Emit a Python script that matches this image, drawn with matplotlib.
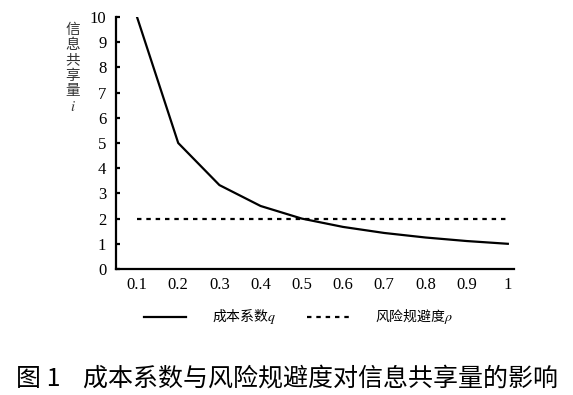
import matplotlib.pyplot as plt

plt.rcParams['font.family'] = ['Noto Sans CJK SC', 'DejaVu Sans']
plt.rcParams['mathtext.fontset'] = 'stix'

# data
q = [0.1, 0.2, 0.3, 0.4, 0.5, 0.6, 0.7, 0.8, 0.9, 1.0]
share_q = [10, 5, 3.33, 2.5, 2.0, 1.67, 1.43, 1.25, 1.11, 1.0]
share_rho = [2, 2, 2, 2, 2, 2, 2, 2, 2, 2]
xtick_labels = ['0.1', '0.2', '0.3', '0.4', '0.5', '0.6', '0.7', '0.8', '0.9', '1']
yticks = list(range(0, 11))

fig = plt.figure(figsize=(5.73, 3.95), dpi=100)
ax = fig.add_axes([116 / 573, 1 - 269 / 395, (514 - 116) / 573, (269 - 17) / 395])

ax.plot(q, share_q, color='black', lw=1.6, label='成本系数$q$')
ax.plot(q, share_rho, color='black', lw=1.6, linestyle=(0, (2, 2.2)),
        label='风险规避度$\\rho$')

ax.set_xlim(0.049, 1.015)
ax.set_ylim(0, 10)
ax.set_xticks(q)
ax.set_xticklabels(xtick_labels)
ax.set_yticks(yticks)
for sp in ['top', 'right']:
    ax.spines[sp].set_visible(False)
for sp in ['left', 'bottom']:
    ax.spines[sp].set_linewidth(1.6)
ax.tick_params(axis='y', direction='in', length=3, width=1.6, pad=7)
ax.tick_params(axis='x', length=0, pad=6)
for lab in ax.get_xticklabels() + ax.get_yticklabels():
    lab.set_family('Liberation Serif')
    lab.set_fontsize(12)

# vertical y-axis label
fig.text(73 / 573, 1 - 23 / 395, '信\n息\n共\n享\n量\n$i$', ha='center', va='top',
         fontsize=10.5, linespacing=1.12, color='#333333')

fig.legend(loc='center', bbox_to_anchor=(0.521, 1 - 317 / 395), ncol=2, frameon=False,
           fontsize=10, handlelength=3.0, columnspacing=2.2, handletextpad=1.9)

fig.text(0.5, 1 - 378 / 395, '图 1    成本系数与风险规避度对信息共享量的影响',
         ha='center', va='center', fontsize=18)

fig.savefig('out.png', dpi=100)
